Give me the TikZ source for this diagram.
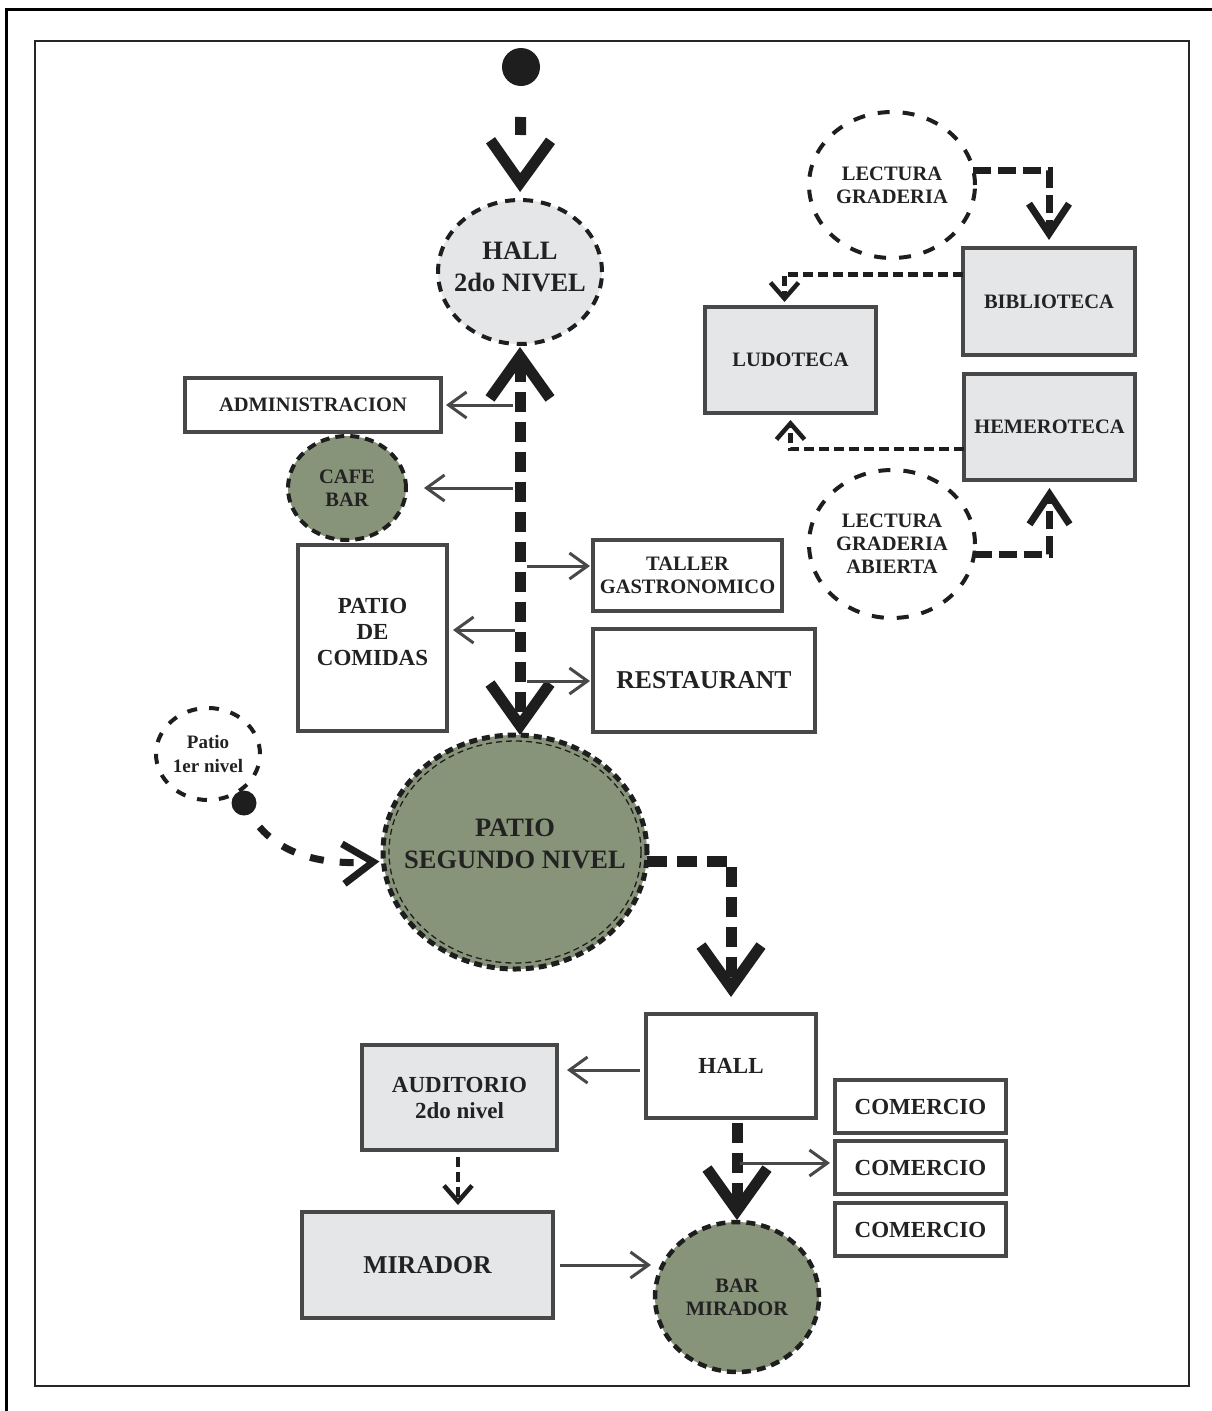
\documentclass[tikz,border=0pt]{standalone}
\usepackage{fontspec}
\newfontfamily\dfont{Liberation Serif}
\usetikzlibrary{arrows.meta,shapes.geometric}
\definecolor{boxgray}{RGB}{229,230,232}
\definecolor{sage}{RGB}{135,148,122}
\definecolor{edge}{RGB}{72,72,72}
\definecolor{ink}{RGB}{34,34,34}
\definecolor{flow}{RGB}{30,30,30}
\begin{document}
\begin{tikzpicture}[x=1pt,y=-1pt,
  every node/.style={inner sep=0pt, outer sep=0pt, align=center, text=ink},
  tA/.style={font=\dfont\bfseries\fontsize{26.5}{32}\selectfont},
  tB/.style={font=\dfont\bfseries\fontsize{25.7}{30}\selectfont},
  tC/.style={font=\dfont\bfseries\fontsize{23}{26}\selectfont},
  tD/.style={font=\dfont\bfseries\fontsize{20.5}{23}\selectfont},
  tE/.style={font=\dfont\bfseries\fontsize{19}{24}\selectfont},
  room/.style={rectangle, draw=edge, line width=3.5pt, fill=white},
  greyroom/.style={room, fill=boxgray},
  zone/.style={ellipse, draw=flow, line width=4pt, dash pattern=on 10pt off 8pt},
  greenzone/.style={zone, fill=sage},
  openzone/.style={zone, fill=white, dash pattern=on 12pt off 13pt},
  bigtip/.tip={Straight Barb[length=42pt,width=60pt]},
  midtip/.tip={Straight Barb[length=30pt,width=40pt]},
  smalltip/.tip={Straight Barb[length=16pt,width=28pt]},
  linktip/.tip={Straight Barb[length=18pt,width=26pt]},
  bigflow/.style={draw=flow, line width=11pt, dash pattern=on 20pt off 10pt, -bigtip},
  midflow/.style={draw=flow, line width=7pt, dash pattern=on 18pt off 7pt, -midtip},
  smallflow/.style={draw=flow, line width=4.5pt, dash pattern=on 10pt off 5pt, -smalltip},
  link/.style={draw=edge, line width=3pt, -linktip},
  dot/.style={circle, fill=flow},
]
\useasboundingbox (0,0) rectangle (1212,1411);
% frames
\draw[line width=3pt, draw=black] (6,9) rectangle (1220,1420);
\draw[line width=2.5pt, draw=black!85] (35,41) rectangle (1189,1386);

% ---- nodes
\node[dot, minimum size=38pt] (start) at (521,67) {};
\node[zone, fill=boxgray, minimum width=164pt, minimum height=144pt,
      label={[tA, yshift=5pt]center:{HALL\\2do NIVEL}}] (hall2) at (520,272) {};
\node[room, tD, minimum width=256pt, minimum height=54pt] (admin) at (313,405) {ADMINISTRACION};
\node[greenzone, dash pattern=on 9pt off 6pt, minimum width=118pt, minimum height=104pt,
      label={[tD]center:{CAFE\\BAR}}] (cafe) at (347,488) {};
\node[room, minimum width=149pt, minimum height=186pt,
      label={[tC, yshift=6pt]center:{PATIO\\DE\\COMIDAS}}] (comidas) at (372.5,638) {};
\node[room, tD, minimum width=189pt, minimum height=71pt] (taller) at (687.5,575.5) {TALLER\\GASTRONOMICO};
\node[room, tB, minimum width=222pt, minimum height=103pt] (rest) at (704,680.5) {RESTAURANT};
\node[greenzone, line width=5pt, dash pattern=on 8pt off 5pt, minimum width=264pt, minimum height=234pt] (psn) at (515,852) {};
\draw[draw=flow, line width=1.3pt, dash pattern=on 6pt off 4pt] (psn.center) ellipse [x radius=126, y radius=111];
\path (psn.center) node[tA, yshift=8pt] (psnt) {PATIO\\SEGUNDO NIVEL};
\node[openzone, dash pattern=on 10pt off 12pt, minimum width=104pt, minimum height=92pt,
      label={[tE]center:{Patio\\1er nivel}}] (patio1) at (208,754) {};
\node[dot, minimum size=25pt] (sdot) at (244,803) {};
\node[room, tC, minimum width=170pt, minimum height=104pt] (hallb) at (731,1066) {HALL};
\node[greyroom, tC, minimum width=195pt, minimum height=105pt] (aud) at (459.5,1097.5) {AUDITORIO\\2do nivel};
\node[greyroom, tB, minimum width=251pt, minimum height=106pt] (mir) at (427.5,1265) {MIRADOR};
\node[greenzone, line width=4.5pt, dash pattern=on 9pt off 6pt, minimum width=164pt, minimum height=150pt,
      label={[tD]center:{BAR\\MIRADOR}}] (barm) at (737,1297) {};
\node[room, tC, minimum width=171pt, minimum height=53pt] (com1) at (920.5,1106.5) {COMERCIO};
\node[room, tC, minimum width=171pt, minimum height=53pt] (com2) at (920.5,1167.5) {COMERCIO};
\node[room, tC, minimum width=171pt, minimum height=53pt] (com3) at (920.5,1229.5) {COMERCIO};
\node[openzone, minimum width=166pt, minimum height=146pt,
      label={[tD]center:{LECTURA\\GRADERIA}}] (lg) at (892,185) {};
\node[greyroom, tD, minimum width=172pt, minimum height=107pt] (bib) at (1049,301.5) {BIBLIOTECA};
\node[greyroom, tD, minimum width=171pt, minimum height=106pt] (lud) at (790.5,360) {LUDOTECA};
\node[greyroom, tD, minimum width=171pt, minimum height=106pt] (hem) at (1049.5,427) {HEMEROTECA};
\node[openzone, minimum width=166pt, minimum height=148pt,
      label={[tD]center:{LECTURA\\GRADERIA\\ABIERTA}}] (lga) at (892,544) {};

% ---- points on the flows
\coordinate (va) at (513,405);
\coordinate (vb) at (513,488);
\coordinate (vc) at (527,566);
\coordinate (vd) at (515,630);
\coordinate (ve) at (527,681);
\coordinate (vf) at (740,1163);
\coordinate (ha) at ([yshift=-4pt]hallb.west);
\coordinate (ax) at (458,0);
\coordinate (bw) at ([yshift=27pt]bib.west);
\coordinate (ln) at ([xshift=-6pt]lud.north);
\coordinate (hw) at ([yshift=-22pt]hem.west);

% ---- connectors
\draw[bigflow, dash pattern=on 0pt off 31pt on 18pt off 80pt, shorten >=8pt] (start.south) -- (hall2.north);
\draw[bigflow, bigtip-bigtip, shorten <=3pt] (hall2.south) -- (hall2.south |- psn.north);
\draw[link, shorten >=5pt] (va) -- (admin.east |- va);
\draw[link, shorten >=18pt] (vb) -- (cafe.east |- vb);
\draw[link, shorten >=3pt] (vc) -- (taller.west |- vc);
\draw[link, shorten >=6pt] (vd) -- (comidas.east |- vd);
\draw[link, shorten >=3pt] (ve) -- (rest.west |- ve);
\draw[midflow, dash pattern=on 14pt off 16pt, dash phase=14pt, shorten >=4pt]
  (sdot.-60) .. controls (270,848) and (310,866) .. (psn.184);
\draw[bigflow, shorten >=17pt] (psn.-4) -| (hallb.north);
\draw[link, shorten <=6pt, shorten >=10pt] (ha) -- (aud.east |- ha);
\draw[smallflow, shorten <=7pt, shorten >=7pt] (aud.south -| ax) -- (mir.north -| ax);
\draw[link, shorten <=7pt, shorten >=4pt] (mir.east) -- (barm.west |- mir.east);
\draw[bigflow, shorten <=5pt, shorten >=2pt] (hallb.south -| barm.north) -- (barm.north);
\draw[link, shorten >=5pt] (vf) -- (com2.west |- vf);
\draw[midflow, shorten >=8pt] (lg.10) -| (bib.north);
\draw[smallflow, shorten >=5pt] (bw) -| (ln);
\draw[smallflow, shorten >=7pt] (hw) -| (lud.south);
\draw[midflow, shorten >=8pt] (lga.-7) -| (hem.south);
\end{tikzpicture}
\end{document}
